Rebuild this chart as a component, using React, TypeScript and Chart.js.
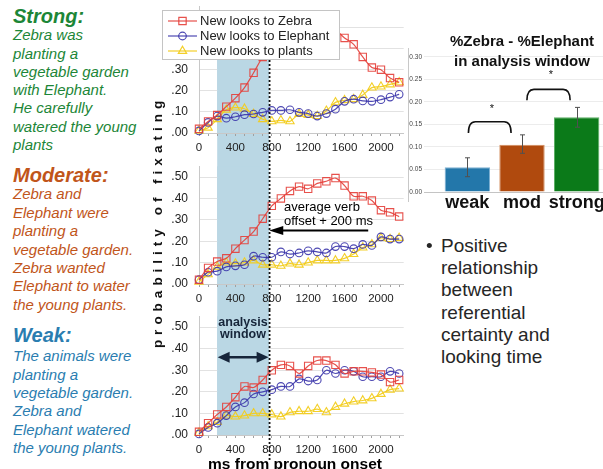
import React, { useEffect, useRef } from 'react';
import { Chart, registerables } from 'chart.js';

Chart.register(...registerables);
const FONT = "'Liberation Sans', Arial, sans-serif";
Chart.defaults.font.family = FONT;

// ---------- data ----------
const timesMs = [0, 100, 200, 300, 400, 500, 600, 700, 800, 900, 1000, 1100, 1200, 1300, 1400, 1500, 1600, 1700, 1800, 1900, 2000, 2100, 2200];
const seriesLabels = ['New looks to Zebra', 'New looks to Elephant', 'New looks to plants'];
const yTickValues = [0, 0.1, 0.2, 0.3, 0.4, 0.5];
const xTickValues = [0, 100, 200, 300, 400, 500, 600, 700, 800, 900, 1000, 1100, 1200, 1300, 1400, 1500, 1600, 1700, 1800, 1900, 2000, 2100, 2200];

const strongZebra = [0.02, 0.055, 0.085, 0.125, 0.165, 0.215, 0.285, 0.36, 0.41, 0.45, 0.48, 0.51, 0.53, 0.53, 0.52, 0.49, 0.45, 0.42, 0.36, 0.31, 0.30, 0.26, 0.24];
const strongElephant = [0.01, 0.05, 0.08, 0.07, 0.077, 0.087, 0.09, 0.098, 0.107, 0.107, 0.11, 0.098, 0.092, 0.08, 0.092, 0.113, 0.15, 0.16, 0.152, 0.15, 0.158, 0.17, 0.183];
const strongPlants = [0.01, 0.025, 0.065, 0.11, 0.12, 0.115, 0.09, 0.065, 0.055, 0.06, 0.055, 0.09, 0.085, 0.08, 0.105, 0.145, 0.155, 0.16, 0.18, 0.215, 0.22, 0.23, 0.24];

const moderateZebra = [0.02, 0.075, 0.105, 0.12, 0.165, 0.205, 0.245, 0.305, 0.365, 0.40, 0.435, 0.455, 0.445, 0.47, 0.48, 0.495, 0.46, 0.41, 0.41, 0.39, 0.345, 0.335, 0.315];
const moderateElephant = [0.02, 0.055, 0.06, 0.08, 0.085, 0.09, 0.13, 0.125, 0.125, 0.15, 0.14, 0.145, 0.155, 0.15, 0.145, 0.175, 0.175, 0.165, 0.185, 0.18, 0.22, 0.21, 0.21];
const moderatePlants = [0.01, 0.045, 0.08, 0.10, 0.095, 0.10, 0.11, 0.09, 0.09, 0.085, 0.095, 0.09, 0.10, 0.11, 0.11, 0.11, 0.12, 0.14, 0.17, 0.185, 0.215, 0.21, 0.215];

const weakZebra = [0.015, 0.055, 0.095, 0.13, 0.175, 0.225, 0.22, 0.255, 0.30, 0.325, 0.32, 0.285, 0.32, 0.345, 0.345, 0.325, 0.285, 0.295, 0.295, 0.29, 0.28, 0.245, 0.255];
const weakElephant = [0.005, 0.035, 0.055, 0.09, 0.13, 0.15, 0.19, 0.20, 0.21, 0.225, 0.225, 0.26, 0.25, 0.255, 0.30, 0.285, 0.30, 0.295, 0.27, 0.27, 0.27, 0.295, 0.285];
const weakPlants = [0.01, 0.04, 0.06, 0.09, 0.085, 0.09, 0.10, 0.10, 0.095, 0.085, 0.105, 0.11, 0.11, 0.12, 0.105, 0.13, 0.145, 0.155, 0.16, 0.17, 0.19, 0.21, 0.215];

const barCategories = ['weak', 'mod', 'strong'];
const barValues = [0.055, 0.105, 0.166];
const barErrLow = [0.034, 0.086, 0.144];
const barErrHigh = [0.076, 0.127, 0.188];
const barTitleLines = ['%Zebra - %Elephant', 'in analysis window'];

// annotation anchors (data units)
const windowStartMs = 200;
const windowEndMs = 770;
const verbArrow = { fromMs: 1860, toMs: 772, value: 0.25 };
const windowArrow = { fromMs: 205, toMs: 765, value: 0.36 };
const sigBrackets = [
  { from: 0.02, to: 0.8, top: 0.156, end: 0.131, starAt: 0.45, starY: 0.19 },
  { from: 1.09, to: 1.88, top: 0.228, end: 0.204, starAt: 1.53, starY: 0.265 },
];

// ---------- styles ----------
const ZEBRA = 'rgba(228,62,56,0.9)';
const ELEPHANT = 'rgba(58,52,170,0.9)';
const PLANTS = 'rgba(242,204,28,0.95)';
const SHADE = 'rgb(186,215,228)';
const barColors = ['#2377aa', '#b04a0e', '#0b7a19'];
const barEdges = ['#7fb1d3', '#d38d5d', '#5eb067'];

type PanelCfg = {
  key: string;
  zebra: number[];
  elephant: number[];
  plants: number[];
  yMax: number;
  padTop: number;
  xAxisH: number;
  shadeTop: number;
  shadeBottom: number | 'area';
  dotTop: number;
  dotBottom: number;
  legend?: boolean;
  verb?: boolean;
  windowArr?: boolean;
};

function drawMarker(ctx: CanvasRenderingContext2D, style: string, x: number, y: number, r: number) {
  ctx.beginPath();
  if (style === 'rect') {
    const s = Math.SQRT1_2 * r;
    ctx.rect(x - s, y - s, 2 * s, 2 * s);
  } else if (style === 'circle') {
    ctx.arc(x, y, r, 0, Math.PI * 2);
  } else {
    for (let k = 0; k < 3; k++) {
      const a = -Math.PI / 2 + (k * 2 * Math.PI) / 3;
      const px = x + Math.cos(a) * r;
      const py = y + Math.sin(a) * r;
      if (k === 0) ctx.moveTo(px, py);
      else ctx.lineTo(px, py);
    }
    ctx.closePath();
  }
  ctx.stroke();
}

function decor(cfg: PanelCfg) {
  return {
    id: 'decor' + cfg.key,
    beforeDraw(chart: any) {
      const { ctx, chartArea } = chart;
      const xs = chart.scales.x;
      const x0 = xs.getPixelForValue(windowStartMs);
      const x1 = xs.getPixelForValue(windowEndMs);
      const yb = cfg.shadeBottom === 'area' ? chartArea.bottom : cfg.shadeBottom;
      ctx.save();
      ctx.fillStyle = SHADE;
      ctx.fillRect(x0, cfg.shadeTop, x1 - x0, yb - cfg.shadeTop);
      ctx.restore();
    },
    beforeDatasetsDraw(chart: any) {
      const { ctx, chartArea } = chart;
      const xs = chart.scales.x;
      const x0 = xs.getPixelForValue(windowStartMs);
      const x1 = xs.getPixelForValue(windowEndMs);
      const top = Math.max(cfg.shadeTop, chartArea.top);
      ctx.save();
      ctx.fillStyle = SHADE;
      ctx.fillRect(x0, top, x1 - x0, chartArea.bottom - top);
      ctx.restore();
    },
    afterDraw(chart: any) {
      const { ctx } = chart;
      const xs = chart.scales.x;
      const ys = chart.scales.y;
      ctx.save();
      if (cfg.legend) {
        ctx.fillStyle = '#ffffff';
        ctx.fillRect(2, 10, 178, 50);
        ctx.strokeStyle = '#c4c4c4';
        ctx.lineWidth = 1;
        ctx.strokeRect(2.5, 10.5, 177, 49);
        chart.data.datasets.forEach((ds: any, i: number) => {
          const yy = 21 + i * 15;
          ctx.strokeStyle = ds.borderColor;
          ctx.lineWidth = 1.2;
          ctx.beginPath();
          ctx.moveTo(8, yy);
          ctx.lineTo(37, yy);
          ctx.stroke();
          drawMarker(ctx, ds.pointStyle, 22.5, yy, ds.pointRadius);
          ctx.fillStyle = '#222';
          ctx.font = `13px ${FONT}`;
          ctx.textBaseline = 'middle';
          ctx.textAlign = 'left';
          ctx.fillText(ds.label, 40, yy + 0.5);
        });
      }
      // dotted line: average verb offset + 200 ms
      const xd = xs.getPixelForValue(windowEndMs) + 0.5;
      ctx.strokeStyle = '#111';
      ctx.lineWidth = 1.8;
      ctx.setLineDash([2, 2]);
      ctx.beginPath();
      ctx.moveTo(xd, cfg.dotTop);
      ctx.lineTo(xd, cfg.dotBottom);
      ctx.stroke();
      ctx.setLineDash([]);
      if (cfg.verb) {
        const tip = xs.getPixelForValue(verbArrow.toMs);
        const tail = xs.getPixelForValue(verbArrow.fromMs);
        const yy = ys.getPixelForValue(verbArrow.value);
        ctx.strokeStyle = '#000';
        ctx.fillStyle = '#000';
        ctx.lineWidth = 2;
        ctx.beginPath();
        ctx.moveTo(tip + 10, yy);
        ctx.lineTo(tail, yy);
        ctx.stroke();
        ctx.beginPath();
        ctx.moveTo(tip, yy);
        ctx.lineTo(tip + 14, yy - 4.5);
        ctx.lineTo(tip + 14, yy + 4.5);
        ctx.closePath();
        ctx.fill();
      }
      if (cfg.windowArr) {
        const a = xs.getPixelForValue(windowArrow.fromMs);
        const b = xs.getPixelForValue(windowArrow.toMs);
        const yy = ys.getPixelForValue(windowArrow.value);
        ctx.strokeStyle = '#16253a';
        ctx.fillStyle = '#16253a';
        ctx.lineWidth = 2.6;
        ctx.beginPath();
        ctx.moveTo(a + 8, yy);
        ctx.lineTo(b - 8, yy);
        ctx.stroke();
        ctx.beginPath();
        ctx.moveTo(a, yy);
        ctx.lineTo(a + 12, yy - 5.5);
        ctx.lineTo(a + 12, yy + 5.5);
        ctx.closePath();
        ctx.fill();
        ctx.beginPath();
        ctx.moveTo(b, yy);
        ctx.lineTo(b - 12, yy - 5.5);
        ctx.lineTo(b - 12, yy + 5.5);
        ctx.closePath();
        ctx.fill();
      }
      ctx.restore();
    },
  };
}

function makeLine(canvas: HTMLCanvasElement, cfg: PanelCfg) {
  const mk = (label: string, vals: number[], color: string, style: string, radius: number) => ({
    label,
    data: timesMs.map((t, i) => ({ x: t, y: vals[i] })),
    borderColor: color,
    borderWidth: 1.2,
    pointStyle: style,
    pointRadius: radius,
    pointBorderColor: color,
    pointBackgroundColor: 'rgba(255,255,255,0)',
    pointBorderWidth: 1.1,
    tension: 0.3,
    clip: false,
  });
  return new Chart(canvas, {
    type: 'line',
    data: {
      datasets: [
        mk(seriesLabels[0], cfg.zebra, ZEBRA, 'rect', 5.2),
        mk(seriesLabels[1], cfg.elephant, ELEPHANT, 'circle', 3.8),
        mk(seriesLabels[2], cfg.plants, PLANTS, 'triangle', 4.8),
      ] as any,
    },
    options: {
      responsive: false,
      animation: false,
      events: [],
      layout: { padding: { top: cfg.padTop, right: 2, left: 0, bottom: 0 } },
      plugins: { legend: { display: false }, tooltip: { enabled: false } },
      scales: {
        x: {
          type: 'linear',
          min: 0,
          max: 2250,
          afterBuildTicks: (s: any) => {
            s.ticks = xTickValues.map((v) => ({ value: v }));
          },
          afterFit: (s: any) => {
            s.height = cfg.xAxisH;
            s.paddingLeft = 0;
            s.paddingRight = 0;
          },
          ticks: {
            autoSkip: false,
            maxRotation: 0,
            padding: 4.5,
            color: '#222',
            font: { size: 11.5 },
            callback: (v: any) => (Math.round(Number(v)) % 400 === 0 ? String(Math.round(Number(v))) : ''),
          },
          grid: { drawOnChartArea: false, drawTicks: true, tickLength: 3, color: '#a0a0a0' },
          border: { display: true, color: '#c8c8c8' },
        },
        y: {
          min: 0,
          max: cfg.yMax,
          afterBuildTicks: (s: any) => {
            s.ticks = yTickValues.map((v) => ({ value: v }));
          },
          afterFit: (s: any) => {
            s.width = 39;
            s.paddingTop = 0;
            s.paddingBottom = 0;
          },
          ticks: {
            padding: 11,
            color: '#222',
            font: { size: 12 },
            callback: (v: any) => Number(v).toFixed(2).replace(/^0/, ''),
          },
          grid: { color: '#e2e2e2', drawTicks: false },
          border: { display: true, color: '#c8c8c8' },
        },
      },
    } as any,
    plugins: [decor(cfg) as any],
  });
}

const barDecor = {
  id: 'barDecor',
  afterDatasetsDraw(chart: any) {
    const { ctx } = chart;
    const xs = chart.scales.x;
    const ys = chart.scales.y;
    ctx.save();
    ctx.strokeStyle = '#505050';
    ctx.lineWidth = 1;
    barValues.forEach((_v, i) => {
      const px = Math.round(xs.getPixelForValue(i)) + 0.5;
      const yl = ys.getPixelForValue(barErrLow[i]);
      const yh = ys.getPixelForValue(barErrHigh[i]);
      ctx.beginPath();
      ctx.moveTo(px, yl);
      ctx.lineTo(px, yh);
      ctx.moveTo(px - 2.5, yl);
      ctx.lineTo(px + 2.5, yl);
      ctx.moveTo(px - 2.5, yh);
      ctx.lineTo(px + 2.5, yh);
      ctx.stroke();
    });
    ctx.strokeStyle = '#111';
    ctx.lineWidth = 1.6;
    sigBrackets.forEach((b) => {
      const x1 = xs.getPixelForValue(b.from);
      const x2 = xs.getPixelForValue(b.to);
      const yt = ys.getPixelForValue(b.top);
      const ye = ys.getPixelForValue(b.end);
      const r = 7;
      ctx.beginPath();
      ctx.moveTo(x1, ye);
      ctx.quadraticCurveTo(x1, yt, x1 + r, yt);
      ctx.lineTo(x2 - r, yt);
      ctx.quadraticCurveTo(x2, yt, x2, ye);
      ctx.stroke();
      ctx.fillStyle = '#111';
      ctx.font = `11px ${FONT}`;
      ctx.textAlign = 'center';
      ctx.textBaseline = 'middle';
      ctx.fillText('*', xs.getPixelForValue(b.starAt), ys.getPixelForValue(b.starY) + 2);
    });
    ctx.restore();
  },
};

function makeBar(canvas: HTMLCanvasElement) {
  return new Chart(canvas, {
    type: 'bar',
    data: {
      labels: barCategories,
      datasets: [
        {
          data: barValues,
          backgroundColor: barColors,
          borderColor: barEdges,
          borderWidth: 1,
          categoryPercentage: 1,
          barPercentage: 0.83,
        },
      ],
    },
    options: {
      responsive: false,
      animation: false,
      events: [],
      layout: { padding: { right: 1, left: 0, top: 0, bottom: 0 } },
      plugins: {
        legend: { display: false },
        tooltip: { enabled: false },
        title: {
          display: true,
          text: barTitleLines,
          fullSize: false,
          color: '#111',
          font: { size: 15, weight: 'bold', lineHeight: 1.3333 },
          padding: { top: 12, bottom: -15 },
        },
      },
      scales: {
        x: {
          grid: { display: false, drawTicks: false },
          border: { display: false },
          ticks: { color: '#111', font: { size: 18, weight: 'bold' }, padding: 0, maxRotation: 0, autoSkip: false },
          afterFit: (s: any) => {
            s.height = 28;
            s.paddingLeft = 0;
            s.paddingRight = 0;
          },
        },
        y: {
          min: 0,
          max: 0.3,
          ticks: { stepSize: 0.05, padding: 2, color: '#444', font: { size: 6.5 }, callback: (v: any) => Number(v).toFixed(2) },
          grid: {
            tickLength: 16,
            color: (c: any) => (c.tick && Math.abs(c.tick.value) < 1e-9 ? '#c4c4c4' : '#ececec'),
          },
          border: { display: false },
          afterFit: (s: any) => {
            s.width = 35;
            s.paddingTop = 0;
            s.paddingBottom = 0;
          },
        },
      },
    } as any,
    plugins: [barDecor as any],
  });
}

const topCfg: PanelCfg = {
  key: 'strong', zebra: strongZebra, elephant: strongElephant, plants: strongPlants,
  yMax: 0.6, padTop: 0, xAxisH: 27, shadeTop: 60, shadeBottom: 160, dotTop: 60, dotBottom: 160, legend: true,
};
const midCfg: PanelCfg = {
  key: 'moderate', zebra: moderateZebra, elephant: moderateElephant, plants: moderatePlants,
  yMax: 0.55, padTop: 3, xAxisH: 26, shadeTop: 0, shadeBottom: 150, dotTop: 0, dotBottom: 150, verb: true,
};
const botCfg: PanelCfg = {
  key: 'weak', zebra: weakZebra, elephant: weakElephant, plants: weakPlants,
  yMax: 0.55, padTop: 2, xAxisH: 34, shadeTop: 0, shadeBottom: 'area', dotTop: 0, dotBottom: 152, windowArr: true,
};

const abs = (s: React.CSSProperties): React.CSSProperties => ({ position: 'absolute', margin: 0, whiteSpace: 'pre', ...s });

const GREEN = '#1c8637';
const ORANGE = '#c1551a';
const BLUE = '#2a7db0';

export default function App() {
  const topRef = useRef<HTMLCanvasElement>(null);
  const midRef = useRef<HTMLCanvasElement>(null);
  const botRef = useRef<HTMLCanvasElement>(null);
  const barRef = useRef<HTMLCanvasElement>(null);

  useEffect(() => {
    const charts = [
      makeLine(topRef.current!, topCfg),
      makeLine(midRef.current!, midCfg),
      makeLine(botRef.current!, botCfg),
      makeBar(barRef.current!),
    ];
    return () => charts.forEach((c) => c.destroy());
  }, []);

  const head: React.CSSProperties = { fontSize: 20, lineHeight: '24px', fontWeight: 'bold', fontStyle: 'italic', left: 13 };
  const body: React.CSSProperties = { fontSize: 15, lineHeight: '18.3px', fontStyle: 'italic', left: 13 };

  return (
    <div style={{ position: 'fixed', left: 0, top: 0, width: 603, height: 469, overflow: 'hidden', background: '#fff', fontFamily: FONT }}>
      <canvas ref={topRef} width={250} height={160} style={{ position: 'absolute', left: 160, top: 0, width: 250, height: 160 }} />
      <canvas ref={midRef} width={250} height={150} style={{ position: 'absolute', left: 160, top: 160, width: 250, height: 150 }} />
      <canvas ref={botRef} width={250} height={159} style={{ position: 'absolute', left: 160, top: 310, width: 250, height: 159 }} />
      <canvas ref={barRef} width={200} height={200} style={{ position: 'absolute', left: 405, top: 20, width: 200, height: 200 }} />
      <div style={abs({ left: 408, top: 48, width: 0, height: 154, borderLeft: '1px solid #c8c8c8' })} />

      <div style={abs({ ...head, top: 4.4, color: GREEN })}>Strong:</div>
      <div style={abs({ ...body, top: 26.3, color: GREEN })}>
        {'Zebra was\nplanting a\nvegetable garden\nwith Elephant.\nHe carefully\nwatered the young\nplants'}
      </div>
      <div style={abs({ ...head, top: 162.8, color: ORANGE })}>Moderate:</div>
      <div style={abs({ ...body, top: 185.2, lineHeight: '18.45px', color: ORANGE })}>
        {'Zebra and\nElephant were\nplanting a\nvegetable garden.\nZebra wanted\nElephant to water\nthe young plants.'}
      </div>
      <div style={abs({ ...head, top: 322.8, color: BLUE })}>Weak:</div>
      <div style={abs({ ...body, top: 347.4, color: BLUE })}>
        {'The animals were\nplanting a\nvegetable garden.\nZebra and\nElephant watered\nthe young plants.'}
      </div>

      <div
        style={abs({
          left: 18, top: 213, width: 280, height: 18, lineHeight: '18px', textAlign: 'center',
          fontSize: 13.5, fontWeight: 'bold', letterSpacing: 5, color: '#111', transform: 'rotate(-90deg)',
        })}
      >
        probability of fixating
      </div>

      <div style={abs({ left: 284, top: 199.5, fontSize: 13, lineHeight: '14.5px', color: '#000' })}>
        {'average verb\noffset + 200 ms'}
      </div>
      <div style={abs({ left: 208, top: 315.8, width: 70, textAlign: 'center', fontSize: 12.5, lineHeight: '12.5px', fontWeight: 'bold', color: '#16253a' })}>
        {'analysis\nwindow'}
      </div>
      <div style={abs({ left: 195, top: 453.5, width: 200, textAlign: 'center', fontSize: 15.5, lineHeight: '19px', fontWeight: 'bold', color: '#000' })}>
        ms from pronoun onset
      </div>

      <div style={abs({ left: 426, top: 235, fontSize: 19, lineHeight: '22.2px', color: '#262626' })}>•</div>
      <div style={abs({ left: 441, top: 235, fontSize: 19, lineHeight: '22.2px', color: '#262626' })}>
        {'Positive\nrelationship\nbetween\nreferential\ncertainty and\nlooking time'}
      </div>
    </div>
  );
}
